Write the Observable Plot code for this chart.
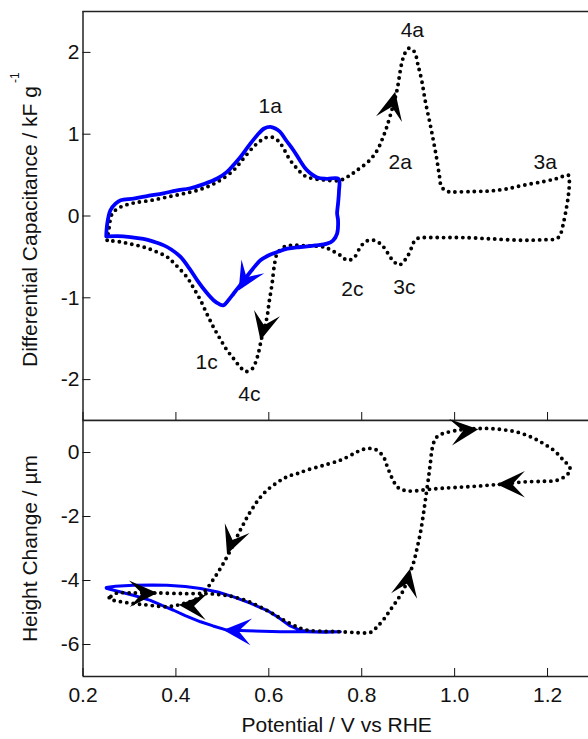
<!DOCTYPE html>
<html>
<head>
<meta charset="utf-8">
<script src="https://cdn.jsdelivr.net/npm/d3@7"></script>
<script src="https://cdn.jsdelivr.net/npm/@observablehq/plot@0.6"></script>
<style>
  html, body { margin: 0; padding: 0; background: #fff; overflow: hidden; }
  #chart { position: relative; width: 588px; height: 739px; }
  #chart svg { position: absolute; left: 0; }
</style>
</head>
<body>
<div id="chart"></div>
<script>
// Potential (V vs RHE) vs differential capacitance (kF/g): wide window, 0.25–1.25 V
const capWide = [
  [0.252,-0.297],[0.256,-0.15],[0.263,0.03],[0.281,0.11],[0.31,0.16],[0.345,0.19],[0.38,0.23],
  [0.417,0.274],[0.455,0.33],[0.489,0.416],[0.524,0.559],[0.545,0.70],[0.567,0.845],[0.585,0.93],
  [0.600,0.967],[0.613,0.95],[0.625,0.886],[0.646,0.682],[0.661,0.58],[0.675,0.50],[0.689,0.465],
  [0.72,0.44],[0.754,0.437],[0.775,0.50],[0.79,0.56],[0.815,0.67],[0.833,0.80],[0.845,0.95],
  [0.854,1.09],[0.866,1.32],[0.876,1.54],[0.886,1.865],[0.893,1.99],[0.901,2.05],[0.908,2.04],
  [0.915,1.99],[0.921,1.85],[0.929,1.66],[0.937,1.40],[0.947,1.13],[0.955,0.90],[0.962,0.68],
  [0.967,0.50],[0.972,0.355],[0.985,0.30],[0.997,0.294],[1.04,0.30],[1.076,0.306],[1.11,0.33],
  [1.148,0.376],[1.19,0.42],[1.22,0.458],[1.245,0.498],[1.247,0.416],[1.245,0.26],[1.241,0.11],
  [1.234,-0.093],[1.228,-0.22],[1.22,-0.277],[1.19,-0.29],[1.148,-0.297],[1.08,-0.28],
  [1.019,-0.264],[0.97,-0.264],[0.933,-0.264],[0.918,-0.28],[0.911,-0.33],[0.903,-0.45],
  [0.897,-0.50],[0.889,-0.57],[0.879,-0.60],[0.87,-0.56],[0.861,-0.50],[0.85,-0.40],[0.84,-0.338],
  [0.828,-0.30],[0.815,-0.297],[0.805,-0.33],[0.797,-0.379],[0.785,-0.50],[0.772,-0.542],
  [0.762,-0.52],[0.754,-0.481],[0.735,-0.42],[0.718,-0.379],[0.68,-0.365],[0.646,-0.359],
  [0.632,-0.379],[0.618,-0.46],[0.612,-0.6],[0.607,-0.83],[0.601,-1.04],[0.596,-1.24],
  [0.585,-1.48],[0.575,-1.73],[0.564,-1.87],[0.55,-1.90],[0.539,-1.85],[0.525,-1.75],[0.51,-1.64],
  [0.495,-1.50],[0.481,-1.36],[0.467,-1.20],[0.453,-1.03],[0.438,-0.88],[0.424,-0.75],[0.40,-0.60],
  [0.381,-0.50],[0.355,-0.43],[0.331,-0.38],[0.305,-0.345],[0.281,-0.318],[0.252,-0.297]
];

// Narrow window, 0.25–0.75 V
const capNarrow = [
  [0.25,-0.25],[0.252,-0.1],[0.259,0.07],[0.27,0.15],[0.281,0.192],[0.309,0.213],[0.34,0.245],
  [0.373,0.278],[0.40,0.31],[0.431,0.339],[0.46,0.39],[0.489,0.458],[0.51,0.539],[0.525,0.63],
  [0.539,0.722],[0.557,0.86],[0.575,0.988],[0.59,1.07],[0.603,1.09],[0.614,1.07],[0.624,1.03],
  [0.638,0.92],[0.653,0.804],[0.668,0.67],[0.682,0.56],[0.704,0.47],[0.725,0.455],[0.750,0.455],
  [0.751,0.3],[0.749,0.15],[0.747,0.03],[0.749,-0.05],[0.747,-0.215],[0.738,-0.30],[0.725,-0.338],
  [0.70,-0.36],[0.668,-0.379],[0.64,-0.40],[0.618,-0.44],[0.60,-0.48],[0.582,-0.542],[0.565,-0.65],
  [0.546,-0.787],[0.535,-0.87],[0.524,-0.95],[0.513,-1.03],[0.503,-1.09],[0.494,-1.08],
  [0.481,-1.03],[0.465,-0.93],[0.446,-0.787],[0.43,-0.65],[0.41,-0.50],[0.39,-0.41],[0.374,-0.359],
  [0.35,-0.31],[0.33,-0.28],[0.302,-0.257],[0.275,-0.245],[0.25,-0.25]
];

// Height change (µm), wide window
const heightWide = [
  [0.26,-4.5],[0.273,-4.39],[0.3,-4.39],[0.324,-4.39],[0.36,-4.39],[0.417,-4.41],[0.467,-4.41],
  [0.50,-4.45],[0.524,-4.51],[0.555,-4.65],[0.582,-4.83],[0.61,-5.05],[0.632,-5.24],[0.661,-5.45],
  [0.682,-5.55],[0.72,-5.59],[0.754,-5.6],[0.79,-5.63],[0.811,-5.64],[0.822,-5.6],[0.833,-5.45],
  [0.848,-5.2],[0.861,-4.93],[0.876,-4.62],[0.89,-4.3],[0.90,-3.9],[0.911,-3.47],[0.919,-3.0],
  [0.926,-2.53],[0.932,-2.0],[0.937,-1.49],[0.944,-0.76],[0.948,-0.3],[0.951,0.07],[0.956,0.35],
  [0.962,0.49],[0.972,0.58],[0.983,0.625],[1.0,0.68],[1.026,0.73],[1.05,0.75],[1.076,0.75],
  [1.105,0.71],[1.134,0.64],[1.165,0.48],[1.191,0.28],[1.215,0.05],[1.234,-0.24],[1.245,-0.4],
  [1.249,-0.55],[1.24,-0.72],[1.22,-0.87],[1.19,-0.9],[1.148,-0.92],[1.11,-0.98],[1.076,-1.02],
  [1.04,-1.06],[1.005,-1.09],[0.97,-1.12],[0.94,-1.16],[0.915,-1.2],[0.897,-1.2],[0.885,-1.15],
  [0.876,-1.07],[0.868,-0.88],[0.861,-0.66],[0.854,-0.4],[0.847,-0.14],[0.833,0.07],[0.822,0.12],
  [0.811,0.125],[0.80,0.08],[0.79,0.02],[0.772,-0.12],[0.754,-0.24],[0.718,-0.4],[0.682,-0.55],
  [0.661,-0.66],[0.646,-0.72],[0.632,-0.81],[0.615,-0.97],[0.596,-1.18],[0.58,-1.43],[0.567,-1.7],
  [0.556,-1.95],[0.546,-2.22],[0.535,-2.53],[0.525,-2.84],[0.51,-3.26],[0.5,-3.52],[0.489,-3.78],
  [0.478,-4.02],[0.467,-4.25],[0.456,-4.44],[0.446,-4.56],[0.43,-4.66],[0.417,-4.72],[0.40,-4.78],
  [0.381,-4.82],[0.36,-4.8],[0.335,-4.76],[0.309,-4.72],[0.28,-4.66],[0.266,-4.62],[0.256,-4.55],
  [0.26,-4.5]
];

// Height change (µm), narrow window
const heightNarrow = [
  [0.25,-4.22],[0.27,-4.18],[0.309,-4.15],[0.35,-4.14],[0.381,-4.15],[0.42,-4.19],[0.453,-4.25],
  [0.49,-4.36],[0.524,-4.51],[0.56,-4.71],[0.596,-4.93],[0.62,-5.15],[0.646,-5.42],[0.668,-5.56],
  [0.70,-5.6],[0.754,-5.6],[0.72,-5.62],[0.68,-5.6],[0.625,-5.6],[0.553,-5.57],[0.51,-5.55],
  [0.48,-5.42],[0.453,-5.29],[0.42,-5.1],[0.395,-4.93],[0.37,-4.78],[0.345,-4.62],[0.31,-4.47],
  [0.281,-4.36],[0.26,-4.28],[0.25,-4.24]
];

// Sweep-direction arrowheads: tip (x, y) and a point behind it on the curve (fromX, fromY)
const capArrowsWide   = [
  {x: 0.872, y: 1.518, fromX: 0.861, fromY: 1.242},
  {x: 0.582, y: -1.52, fromX: 0.594, fromY: -1.236}
];
const capArrowsNarrow = [
  {x: 0.535, y: -0.91, fromX: 0.559, fromY: -0.68}
];
const heightArrowsWide = [
  {x: 0.36,  y: -4.39, fromX: 0.309, fromY: -4.41},
  {x: 0.406, y: -4.76, fromX: 0.456, fromY: -4.81},
  {x: 0.51,  y: -3.18, fromX: 0.528, fromY: -2.51},
  {x: 0.904, y: -3.63, fromX: 0.894, fromY: -4.30},
  {x: 1.051, y: 0.73,  fromX: 1.006, fromY: 0.656},
  {x: 1.091, y: -0.99, fromX: 1.141, fromY: -0.99}
];
const heightArrowsNarrow = [
  {x: 0.502, y: -5.55, fromX: 0.556, fromY: -5.6}
];

// Peak labels
const peakNames = ["1a", "2a", "3a", "4a", "1c", "2c", "3c", "4c"];
const peakX     = [0.603, 0.883, 1.195, 0.909, 0.466, 0.780, 0.892, 0.558];
const peakY     = [1.343, 0.657, 0.657, 2.27, -1.79, -0.897, -0.873, -2.18];

// Tick values
const xTicks = [0.2, 0.4, 0.6, 0.8, 1.0, 1.2];
const capTicks = [-2, -1, 0, 1, 2];
const heightTicks = [0, -2, -4, -6];

const font = "'Liberation Sans', Arial, Helvetica, sans-serif";
const blue = "#0000ff";
const frameColor = "#222";

const pts = (arr) => arr.map(([x, y]) => ({x, y}));
const labels = peakNames.map((text, i) => ({text, x: peakX[i], y: peakY[i]}));

const xScale = {domain: [0.2, 1.3], range: [82.5, 593.5]};
const capY = {domain: [-2.5, 2.5]};
const heightY = {domain: [-7, 1]};

// Filled, notched arrowhead; the tip sits on the anchor and points along +x before rotation
const arrowhead = {
  draw(context, size) {
    const r = Math.sqrt(size / Math.PI);
    const L = 2 * r, w = 0.95 * r;
    context.moveTo(0, 0);
    context.lineTo(-L, -w);
    context.lineTo(-0.55 * L, 0);
    context.lineTo(-L, w);
    context.closePath();
  }
};
const arrowR = 14;

// Screen-space heading of each arrowhead
function withAngles(list, yRange, yDomain) {
  const sx = Plot.scale({x: xScale});
  const sy = Plot.scale({y: {domain: yDomain, range: yRange}});
  return list.map(a => ({
    ...a,
    angle: Math.atan2(sy.apply(a.y) - sy.apply(a.fromY), sx.apply(a.x) - sx.apply(a.fromX)) * 180 / Math.PI
  }));
}

const dotted = {x: "x", y: "y", curve: "catmull-rom", stroke: "black", strokeWidth: 3.9,
  strokeDasharray: "0 6.4", strokeLinecap: "round", strokeLinejoin: "round"};
const solid = {x: "x", y: "y", curve: "catmull-rom", stroke: blue, strokeWidth: 3.8,
  strokeLinejoin: "round", strokeLinecap: "round"};
const svgStyle = {fontFamily: font, fontSize: "21px", background: "transparent", color: "#111"};

// Upper panel: differential capacitance
const topHeight = 421, topMarginTop = 11, topMarginBottom = 1;
const capPanel = Plot.plot({
  width: 588, height: topHeight,
  marginTop: topMarginTop, marginBottom: topMarginBottom, marginLeft: 82.5, marginRight: 0,
  x: xScale, y: capY,
  style: svgStyle,
  marks: [
    Plot.ruleY([2.5, -2.5], {stroke: frameColor, strokeWidth: 1.5}),
    Plot.ruleX([0.2], {stroke: frameColor, strokeWidth: 1.5}),
    Plot.axisY(capTicks, {anchor: "left", tickSize: -8, tickPadding: 11.5, tickFormat: d => String(d), label: null}),
    Plot.axisX(xTicks, {anchor: "bottom", tickSize: -8, tickFormat: () => "", label: null}),
    Plot.line(pts(capWide), dotted),
    Plot.line(pts(capNarrow), solid),
    Plot.dot(withAngles(capArrowsWide, [topHeight - topMarginBottom, topMarginTop], capY.domain),
      {x: "x", y: "y", rotate: "angle", symbol: arrowhead, r: arrowR, fill: "black", strokeWidth: 0}),
    Plot.dot(withAngles(capArrowsNarrow, [topHeight - topMarginBottom, topMarginTop], capY.domain),
      {x: "x", y: "y", rotate: "angle", symbol: arrowhead, r: arrowR, fill: blue, strokeWidth: 0}),
    Plot.text(labels, {x: "x", y: "y", text: "text", fill: "#111"})
  ]
});

// Lower panel: height change
const botHeight = 329, botMarginTop = 10, botMarginBottom = 63;
const heightPanel = Plot.plot({
  width: 588, height: botHeight,
  marginTop: botMarginTop, marginBottom: botMarginBottom, marginLeft: 82.5, marginRight: 0,
  x: xScale, y: heightY,
  style: svgStyle,
  marks: [
    Plot.ruleY([1, -7], {stroke: frameColor, strokeWidth: 1.5}),
    Plot.ruleX([0.2], {stroke: frameColor, strokeWidth: 1.5}),
    Plot.axisY(heightTicks, {anchor: "left", tickSize: -8, tickPadding: 11.5, tickFormat: d => String(d), label: null}),
    Plot.axisX(xTicks, {anchor: "bottom", tickSize: -8, tickPadding: 18.8, tickFormat: d => d.toFixed(1), label: null}),
    Plot.line(pts(heightNarrow), {...solid, strokeWidth: 3, curve: "linear"}),
    Plot.line(pts(heightWide), dotted),
    Plot.dot(withAngles(heightArrowsNarrow, [botHeight - botMarginBottom, botMarginTop], heightY.domain),
      {x: "x", y: "y", rotate: "angle", symbol: arrowhead, r: arrowR, fill: blue, strokeWidth: 0}),
    Plot.dot(withAngles(heightArrowsWide, [botHeight - botMarginBottom, botMarginTop], heightY.domain),
      {x: "x", y: "y", rotate: "angle", symbol: arrowhead, r: arrowR, fill: "black", strokeWidth: 0})
  ]
});

capPanel.style.top = "0px";
heightPanel.style.top = "410px";

// Axis titles
const capTitle = d3.select(capPanel).append("text")
  .attr("transform", "translate(37,367) rotate(-90)")
  .attr("text-anchor", "start").attr("fill", "#111");
capTitle.append("tspan").text("Differential Capacitance / kF g");
capTitle.append("tspan").attr("dx", 3).attr("dy", -18).attr("font-size", 12).text("-1");

d3.select(heightPanel).append("text")
  .attr("transform", "translate(37,138.5) rotate(-90)")
  .attr("text-anchor", "middle").attr("fill", "#111")
  .text("Height Change / µm");

d3.select(heightPanel).append("text")
  .attr("x", 336.7).attr("y", 322)
  .attr("text-anchor", "middle").attr("fill", "#111")
  .text("Potential / V vs RHE");

const chart = document.getElementById("chart");
chart.appendChild(capPanel);
chart.appendChild(heightPanel);
</script>
</body>
</html>
